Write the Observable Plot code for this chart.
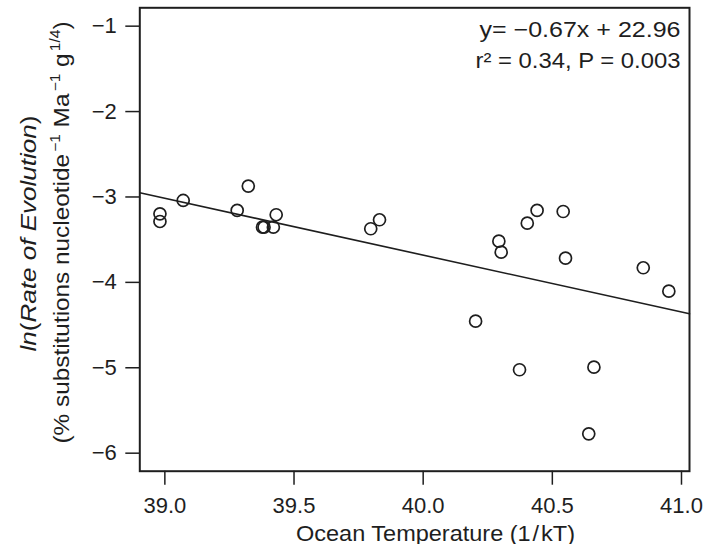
<!DOCTYPE html>
<html>
<head>
<meta charset="utf-8">
<script src="https://cdn.jsdelivr.net/npm/d3@7"></script>
<script src="https://cdn.jsdelivr.net/npm/@observablehq/plot@0.6"></script>
<style>
  html, body { margin: 0; padding: 0; background: #fff; }
  #chart { width: 704px; height: 544px; }
</style>
</head>
<body>
<div id="chart"></div>
<script>
// ---- data ----
const oceanTemp = [38.981, 38.981, 39.071, 39.323, 39.280, 39.378, 39.384, 39.420, 39.431,
                   39.797, 39.831, 40.293, 40.302, 40.403, 40.441, 40.542, 40.551, 40.852,
                   40.951, 40.203, 40.373, 40.661, 40.641];
const lnRate    = [-3.197, -3.287, -3.041, -2.873, -3.158, -3.354, -3.354, -3.354, -3.208,
                   -3.372, -3.267, -3.518, -3.646, -3.307, -3.158, -3.170, -3.717, -3.829,
                   -4.103, -4.454, -5.023, -4.993, -5.773];
const regression = [-0.6659, 22.955];          // slope, intercept of the fitted line
const xDomain = [38.903, 41.031];
const yDomain = [-6.211, -0.785];
const xTicks = [39.0, 39.5, 40.0, 40.5, 41.0];
const yTicks = [-6, -5, -4, -3, -2, -1];
const statLines = ["y= \u22120.67x + 22.96", "r\u00B2 = 0.34, P = 0.003"];
const xTitle = "Ocean Temperature (1\u200A/\u200AkT)";

const points = oceanTemp.map((t, i) => ({t, r: lnRate[i]}));
const fit = xDomain.map(t => ({t, r: regression[1] + regression[0] * t}));

const ink = "#1e1e1e";
const plot = Plot.plot({
  width: 704,
  height: 544,
  marginLeft: 139.3,
  marginRight: 15,
  marginTop: 7.3,
  marginBottom: 73.3,
  style: {fontFamily: "'Liberation Sans', Arial, sans-serif", fontSize: "22px", color: ink, background: "#fff"},
  x: {domain: xDomain},
  y: {domain: yDomain},
  marks: [
    Plot.axisX(xTicks, {tickSize: 14, tickPadding: 12, tickFormat: d3.format(".1f"), label: null, stroke: ink, strokeWidth: 1.5, fontSize: 22}),
    Plot.axisY(yTicks, {tickSize: 14, tickPadding: 9, tickFormat: d => d3.format("d")(d), label: null, stroke: ink, strokeWidth: 1.5, fontSize: 22}),
    Plot.line(fit, {x: "t", y: "r", stroke: ink, strokeWidth: 1.6}),
    Plot.dot(points, {x: "t", y: "r", r: 6, stroke: ink, strokeWidth: 1.7, fill: "none"}),
    Plot.frame({stroke: ink, strokeWidth: 2})
  ]
});
document.getElementById("chart").appendChild(plot);

const svg = d3.select(plot);
const font = "'Liberation Sans', Arial, sans-serif";

// regression statistics (top-right)
[[statLines[0], 37, 201], [statLines[1], 68, 205]].forEach(([txt, y, len]) => {
  svg.append("text")
    .attr("x", 680.5).attr("y", y)
    .attr("text-anchor", "end")
    .attr("font-family", font).attr("font-size", 22).attr("fill", ink)
    .attr("textLength", len).attr("lengthAdjust", "spacingAndGlyphs")
    .text(txt);
});

// x axis title
svg.append("text")
  .attr("x", 435.5).attr("y", 540.5)
  .attr("text-anchor", "middle")
  .attr("font-family", font).attr("font-size", 22).attr("fill", ink)
  .attr("textLength", 279).attr("lengthAdjust", "spacingAndGlyphs")
  .text(xTitle);

// y axis title, two lines
const l1 = svg.append("text")
  .attr("transform", "translate(35.5,233.5) rotate(-90)")
  .attr("text-anchor", "middle")
  .attr("font-family", font).attr("font-size", 22).attr("fill", ink)
  .attr("textLength", 236).attr("lengthAdjust", "spacingAndGlyphs");
l1.append("tspan").attr("font-style", "italic").text("ln");
l1.append("tspan").text("(");
l1.append("tspan").attr("font-style", "italic").text("Rate of Evolution");
l1.append("tspan").text(")");

const l2 = svg.append("text")
  .attr("transform", "translate(68.5,232.5) rotate(-90)")
  .attr("text-anchor", "middle")
  .attr("font-family", font).attr("font-size", 22).attr("fill", ink)
  .attr("textLength", 422).attr("lengthAdjust", "spacingAndGlyphs");
const parts = [["(% substitutions nucleotide", ""], ["\u22121", "sup"], [" Ma", ""], ["\u22121", "sup"], [" g", ""], ["1/4", "sup"], [")", ""]];
let up = false;
for (const [txt, kind] of parts) {
  const ts = l2.append("tspan").text(txt);
  if (kind === "sup") { ts.attr("font-size", 14).attr("dy", up ? 0 : -9).attr("dx", 2); up = true; }
  else if (up) { ts.attr("dy", 9); up = false; }
}
</script>
</body>
</html>
